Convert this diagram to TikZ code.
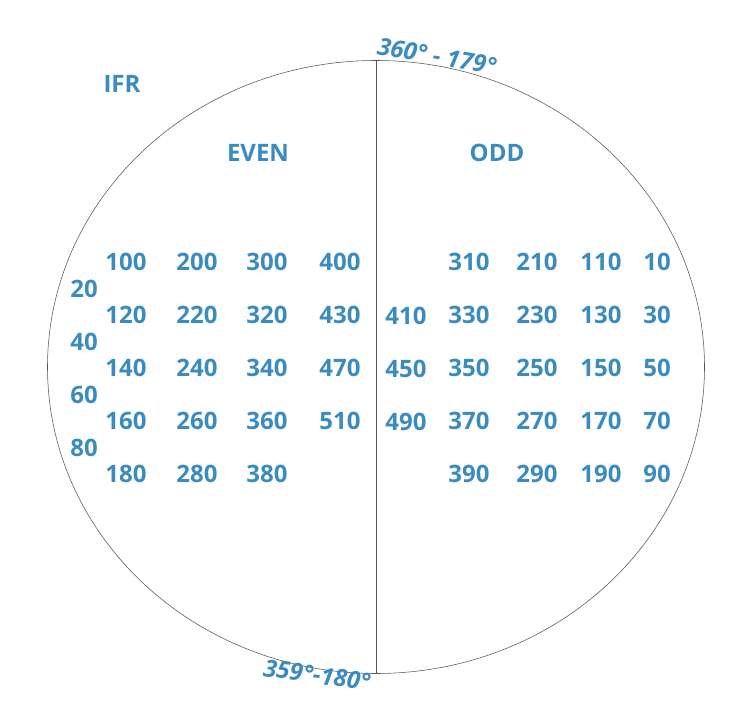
\documentclass[tikz,border=0pt]{standalone}
\usepackage{fontspec}
\setmainfont{Open Sans}
\usetikzlibrary{positioning}
\definecolor{Ink}{HTML}{3A8BC0}
\definecolor{Rim}{HTML}{555555}

\begin{document}
\begin{tikzpicture}[x=1pt,y=-1pt, num/.style={text=Ink,font=\fontsize{24}{26}\selectfont\bfseries,inner sep=0pt}, head/.style={num}, deg/.style={text=Ink,font=\fontsize{24}{26}\selectfont\bfseries\itshape,inner sep=0pt}, rim/.style={draw=Rim,line width=0.55pt}]
\useasboundingbox (0,0) rectangle (747,725);
\node[coordinate] (C) at (376,367) {};
\draw[rim] (C) ellipse [x radius=328.5, y radius=306.5];
\coordinate (N) at (376,60);
\coordinate (S) at (376,673);
\draw[rim] (N) -- (S);
\node[deg,rotate=-10] (top) at (437,56) {360° - 179°};
\node[deg,rotate=-8] (bot) at (317,675) {359°-180°};
\node[head] (ifr) at (122,84) {IFR};
\node[head] (even) at (258,153) {EVEN};
\node[head] (odd) at (497,153) {ODD};
% even side
\foreach \r/\a/\b/\c/\d in {262/100/200/300/400, 315/120/220/320/430, 368/140/240/340/470, 421/160/260/360/510}{
  \node[num] (e\a) at (126,\r) {\a};
  \node[num] (e\b) at (197,\r) {\b};
  \node[num] (e\c) at (267,\r) {\c};
  \node[num] (e\d) at (340,\r) {\d};
}
\foreach \a/\b/\c in {180/280/380}{
  \node[num] (e\a) at (126,474) {\a};
  \node[num] (e\b) at (197,474) {\b};
  \node[num] (e\c) at (267,474) {\c};
}
\foreach \v/\r in {20/289,40/342,60/395,80/448}
  \node[num] (m\v) at (84,\r) {\v};
% odd side
\foreach \r/\a/\b/\c/\d in {262/310/210/110/10, 315/330/230/130/30, 368/350/250/150/50, 421/370/270/170/70, 474/390/290/190/90}{
  \node[num] (o\a) at (469,\r) {\a};
  \node[num] (o\b) at (537,\r) {\b};
  \node[num] (o\c) at (601,\r) {\c};
  \node[num] (o\d) at (657,\r) {\d};
}
\foreach \v/\r in {410/316,450/369,490/422}
  \node[num] (c\v) at (406,\r) {\v};
\end{tikzpicture}
\end{document}
